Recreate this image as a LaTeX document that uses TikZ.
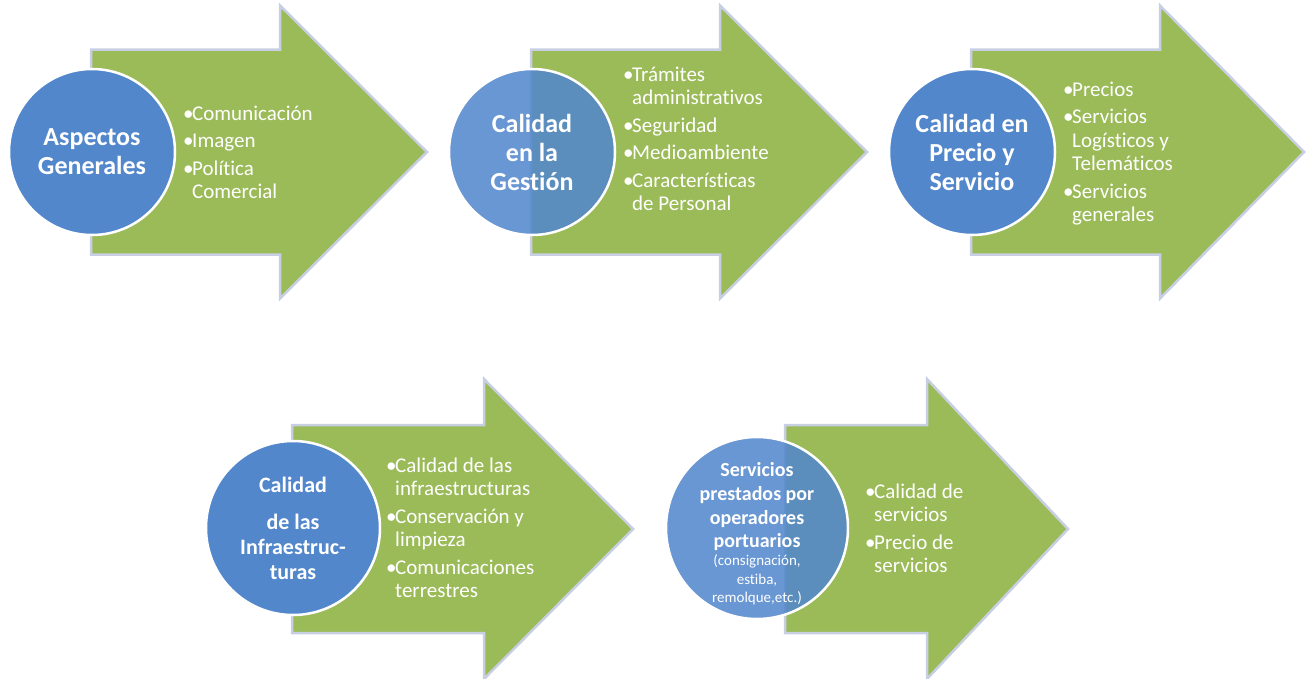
\documentclass[tikz,border=0pt]{standalone}
\usepackage{fontspec}
\setmainfont{Carlito}[Ligatures=NoCommon]
\usetikzlibrary{positioning}
\definecolor{verde}{HTML}{9BBB59}
\definecolor{azul}{HTML}{5287CC}
\definecolor{borde}{HTML}{C8CFE3}
\tikzstyle{flecha}=[fill=verde,draw=borde,line width=2.5pt,line join=miter]
\tikzstyle{circulo}=[circle,fill=azul,draw=white,line width=2.5pt,inner sep=0pt,text=white,align=center,font=\bfseries\fontsize{26}{29}\selectfont]
\tikzstyle{lista}=[anchor=base west,inner sep=0pt,text=white,font=\fontsize{21}{23.5}\selectfont]
\newcommand{\vineta}[1]{\vtop{\hsize=200pt\raggedright\parindent=0pt\parskip=4pt\baselineskip=23.5pt #1}}
\newcommand{\punto}[1]{\noindent\hangindent=9pt\hangafter=1\makebox[9pt][l]{\textbullet}#1\par}
\newcommand{\pequena}{\mdseries\fontsize{15}{19}\selectfont}
% flecha: x izquierda, x base punta, x punta, y centro, medio cuerpo, media punta
\newcommand{\dibujaflecha}[6]{%
  \path[flecha] (#1,{#4-#5}) -- (#2,{#4-#5}) -- (#2,{#4-#6}) -- (#3,#4)
    -- (#2,{#4+#6}) -- (#2,{#4+#5}) -- (#1,{#4+#5}) -- cycle;}

\begin{document}
\begin{tikzpicture}[x=1pt,y=-1pt]
  \useasboundingbox (0,0) rectangle (1307,678);
  % fila superior
  \dibujaflecha{91}{280}{427}{152}{102.5}{146.5}
  \dibujaflecha{531}{720}{867}{152}{102.5}{146.5}
  \dibujaflecha{971}{1160}{1304}{152}{102.5}{146.5}
  \node[circulo, minimum size=166pt] (aspectos) at (92,152) {Aspectos\\Generales};
  \node[circulo, minimum size=166pt, fill opacity=0.87, text opacity=1] (gestion) at (532,152) {Calidad\\en la\\Gestión};
  \node[circulo, minimum size=166pt] (precio) at (972,152) {Calidad en\\Precio y\\Servicio};
  \node[lista] (l-aspectos) at (183,120) {\vineta{\punto{Comunicación}\punto{Imagen}\punto{Política\newline Comercial}}};
  \node[lista] (l-gestion) at (623,81) {\vineta{\punto{Trámites\newline administrativos}\punto{Seguridad}\punto{Medioambiente}\punto{Características\newline de Personal}}};
  \node[lista] (l-precio) at (1063,96) {\vineta{\punto{Precios}\punto{Servicios\newline Logísticos y\newline Telemáticos}\punto{Servicios\newline generales}}};
  % fila inferior
  \dibujaflecha{292}{484}{633}{529}{104}{150}
  \dibujaflecha{785}{927}{1068}{529}{104}{150}
  \node[circulo, minimum size=174pt, font=\bfseries\fontsize{22}{25}\selectfont] (infra) at (293,528) {Calidad\\[12pt]de las\\Infraestruc-\\turas};
  \node[circulo, minimum size=182pt, fill opacity=0.87, text opacity=1] (operadores) at (757,528) {};
  \node[text=white, align=center, font=\bfseries\fontsize{20}{23.7}\selectfont] (t-operadores) at (757,534) {Servicios\\prestados por\\operadores\\portuarios\\[-6pt]\pequena (consignación,\\[-5pt]\pequena estiba,\\[-5pt]\pequena remolque,etc.)};
  \node[lista] (l-infra) at (386,472) {\vineta{\punto{Calidad de las\newline infraestructuras}\punto{Conservación y\newline limpieza}\punto{Comunicaciones\newline terrestres}}};
  \node[lista] (l-operadores) at (865,498) {\vineta{\punto{Calidad de\newline servicios}\punto{Precio de\newline servicios}}};
\end{tikzpicture}
\end{document}
